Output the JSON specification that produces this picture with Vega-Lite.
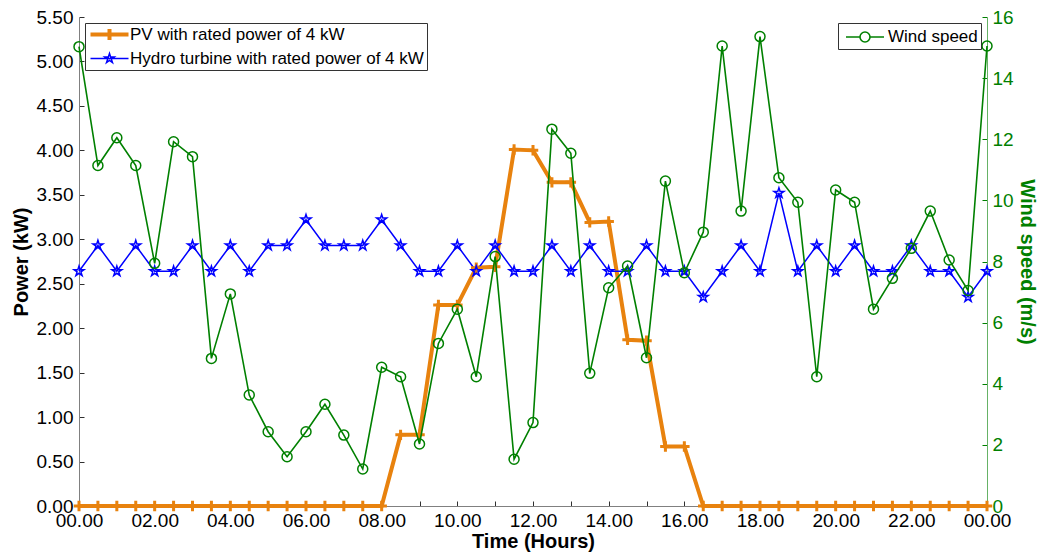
{
  "$schema": "https://vega.github.io/schema/vega-lite/v6.json",
  "width": 908,
  "height": 489,
  "autosize": {"type": "none"},
  "padding": {"left": 79, "top": 17, "right": 54, "bottom": 48},
  "background": "white",
  "config": {
    "font": "Liberation Sans",
    "view": {"stroke": null},
    "axis": {"labelFont": "Liberation Sans", "titleFont": "Liberation Sans", "labelFontSize": 19, "titleFontSize": 20, "titleFontWeight": "bold", "grid": false, "tickSize": -5, "labelOverlap": false, "domainColor": "#808080", "tickColor": "#303030", "labelColor": "black", "titleColor": "black"},
    "legend": {"labelFont": "Liberation Sans", "labelFontSize": 17, "labelColor": "black", "labelLimit": 500}
  },
  "data": {"values": [
    {"t": 0, "pv": 0, "hydro": 2.64, "wind": 15.03},
    {"t": 0.5, "pv": 0, "hydro": 2.93, "wind": 11.14},
    {"t": 1, "pv": 0, "hydro": 2.64, "wind": 12.05},
    {"t": 1.5, "pv": 0, "hydro": 2.93, "wind": 11.14},
    {"t": 2, "pv": 0, "hydro": 2.64, "wind": 7.94},
    {"t": 2.5, "pv": 0, "hydro": 2.64, "wind": 11.92},
    {"t": 3, "pv": 0, "hydro": 2.93, "wind": 11.43},
    {"t": 3.5, "pv": 0, "hydro": 2.64, "wind": 4.83},
    {"t": 4, "pv": 0, "hydro": 2.93, "wind": 6.94},
    {"t": 4.5, "pv": 0, "hydro": 2.64, "wind": 3.63},
    {"t": 5, "pv": 0, "hydro": 2.93, "wind": 2.43},
    {"t": 5.5, "pv": 0, "hydro": 2.93, "wind": 1.61},
    {"t": 6, "pv": 0, "hydro": 3.22, "wind": 2.43},
    {"t": 6.5, "pv": 0, "hydro": 2.93, "wind": 3.33},
    {"t": 7, "pv": 0, "hydro": 2.93, "wind": 2.32},
    {"t": 7.5, "pv": 0, "hydro": 2.93, "wind": 1.21},
    {"t": 8, "pv": 0, "hydro": 3.22, "wind": 4.54},
    {"t": 8.5, "pv": 0.8, "hydro": 2.93, "wind": 4.23},
    {"t": 9, "pv": 0.8, "hydro": 2.64, "wind": 2.03},
    {"t": 9.5, "pv": 2.26, "hydro": 2.64, "wind": 5.32},
    {"t": 10, "pv": 2.26, "hydro": 2.93, "wind": 6.44},
    {"t": 10.5, "pv": 2.68, "hydro": 2.64, "wind": 4.23},
    {"t": 11, "pv": 2.69, "hydro": 2.93, "wind": 8.16},
    {"t": 11.5, "pv": 4.01, "hydro": 2.64, "wind": 1.53},
    {"t": 12, "pv": 4.0, "hydro": 2.64, "wind": 2.73},
    {"t": 12.5, "pv": 3.64, "hydro": 2.93, "wind": 12.33},
    {"t": 13, "pv": 3.64, "hydro": 2.64, "wind": 11.54},
    {"t": 13.5, "pv": 3.19, "hydro": 2.93, "wind": 4.34},
    {"t": 14, "pv": 3.2, "hydro": 2.64, "wind": 7.14},
    {"t": 14.5, "pv": 1.87, "hydro": 2.64, "wind": 7.85},
    {"t": 15, "pv": 1.86, "hydro": 2.93, "wind": 4.85},
    {"t": 15.5, "pv": 0.67, "hydro": 2.64, "wind": 10.63},
    {"t": 16, "pv": 0.67, "hydro": 2.64, "wind": 7.63},
    {"t": 16.5, "pv": 0, "hydro": 2.35, "wind": 8.96},
    {"t": 17, "pv": 0, "hydro": 2.64, "wind": 15.05},
    {"t": 17.5, "pv": 0, "hydro": 2.93, "wind": 9.65},
    {"t": 18, "pv": 0, "hydro": 2.64, "wind": 15.36},
    {"t": 18.5, "pv": 0, "hydro": 3.52, "wind": 10.74},
    {"t": 19, "pv": 0, "hydro": 2.64, "wind": 9.94},
    {"t": 19.5, "pv": 0, "hydro": 2.93, "wind": 4.23},
    {"t": 20, "pv": 0, "hydro": 2.64, "wind": 10.34},
    {"t": 20.5, "pv": 0, "hydro": 2.93, "wind": 9.94},
    {"t": 21, "pv": 0, "hydro": 2.64, "wind": 6.44},
    {"t": 21.5, "pv": 0, "hydro": 2.64, "wind": 7.45},
    {"t": 22, "pv": 0, "hydro": 2.93, "wind": 8.43},
    {"t": 22.5, "pv": 0, "hydro": 2.64, "wind": 9.65},
    {"t": 23, "pv": 0, "hydro": 2.64, "wind": 8.05},
    {"t": 23.5, "pv": 0, "hydro": 2.35, "wind": 7.05},
    {"t": 24, "pv": 0, "hydro": 2.64, "wind": 15.05}
  ]},
  "encoding": {
    "x": {"field": "t", "type": "quantitative", "scale": {"domain": [0, 24], "nice": false, "zero": false},
      "axis": {"title": "Time (Hours)", "values": [0, 1, 2, 3, 4, 5, 6, 7, 8, 9, 10, 11, 12, 13, 14, 15, 16, 17, 18, 19, 20, 21, 22, 23, 24], "labelExpr": "datum.value % 2 != 0 ? '' : (datum.value % 24 < 10 ? '0' : '') + (datum.value % 24) + '.00'", "labelPadding": 10, "titlePadding": 1, "labelFlush": false}}
  },
  "layer": [
    {
      "layer": [
        {
          "mark": {"type": "line", "strokeWidth": 4},
          "encoding": {
            "y": {"field": "pv", "type": "quantitative", "scale": {"domain": [0, 5.5], "nice": false},
              "axis": {"title": "Power (kW)", "values": [0, 0.25, 0.5, 0.75, 1, 1.25, 1.5, 1.75, 2, 2.25, 2.5, 2.75, 3, 3.25, 3.5, 3.75, 4, 4.25, 4.5, 4.75, 5, 5.25, 5.5], "labelExpr": "(datum.value * 4) % 2 != 0 ? '' : format(datum.value, '.2f')", "labelPadding": 11, "titlePadding": 5, "labelFlush": false}},
            "color": {"datum": "pv", "type": "nominal", "scale": {"domain": ["pv", "hydro"], "range": ["#E8820E", "#0000FF"]},
              "legend": {"orient": "top-left", "offset": 6, "title": null, "fillColor": "white", "strokeColor": "#333333", "padding": 3, "rowPadding": 1, "symbolSize": 400, "labelOffset": 25, "cornerRadius": 0,
                "labelExpr": "datum.value == 'pv' ? 'PV with rated power of 4 kW' : 'Hydro turbine with rated power of 4 kW'",
                "encode": {"symbols": {"update": {
                  "shape": {"signal": "datum.value == 'pv' ? 'M-0.6,0H3.2M1.3,-0.55V0.55' : 'M-0.6,0H3.2M1.3,-0.5L1.412,-0.154L1.776,-0.155L1.481,0.059L1.594,0.405L1.3,0.19L1.006,0.405L1.119,0.059L0.824,-0.155L1.188,-0.154Z'"},
                  "strokeWidth": {"signal": "datum.value == 'pv' ? 4 : 1.5"},
                  "fill": {"value": "transparent"}}}}}}
          }
        },
        {
          "mark": {"type": "line", "strokeWidth": 1.5},
          "encoding": {
            "y": {"field": "hydro", "type": "quantitative"},
            "color": {"datum": "hydro", "type": "nominal"}
          }
        },
        {
          "mark": {"type": "point", "shape": "M-1,0H1M0,-1V1", "size": 110, "filled": false, "color": "#E8820E", "strokeWidth": 3, "opacity": 1},
          "encoding": {"y": {"field": "pv", "type": "quantitative"}}
        },
        {
          "mark": {"type": "point", "shape": "M0,-1L0.225,-0.309L0.951,-0.309L0.363,0.118L0.588,0.809L0,0.382L-0.588,0.809L-0.363,0.118L-0.951,-0.309L-0.225,-0.309Z", "size": 110, "filled": false, "color": "#0000FF", "strokeWidth": 1.5, "opacity": 1},
          "encoding": {"y": {"field": "hydro", "type": "quantitative"}}
        }
      ]
    },
    {
      "layer": [
        {
          "mark": {"type": "line", "strokeWidth": 1.6},
          "encoding": {
            "y": {"field": "wind", "type": "quantitative", "scale": {"domain": [0, 16], "nice": false},
              "axis": {"orient": "right", "title": "Wind speed (m/s)", "values": [0, 1, 2, 3, 4, 5, 6, 7, 8, 9, 10, 11, 12, 13, 14, 15, 16], "labelExpr": "datum.value % 2 != 0 ? '' : datum.label", "labelColor": "#008000", "titleColor": "#008000", "domainColor": "#66B266", "tickColor": "#008000", "labelPadding": 10, "titlePadding": 3, "labelFlush": false}},
            "stroke": {"datum": "Wind speed", "type": "nominal", "scale": {"range": ["#008000"]},
              "legend": {"orient": "top-right", "offset": 6, "title": null, "fillColor": "white", "strokeColor": "#333333", "padding": 3, "symbolSize": 400, "labelOffset": 25, "cornerRadius": 0,
                "encode": {"symbols": {"update": {
                  "shape": {"value": "M-0.6,0H0.8M1.8,0H3.2M1.8,0A0.5,0.5 0 1,1 0.8,0A0.5,0.5 0 1,1 1.8,0Z"},
                  "strokeWidth": {"value": 1.6},
                  "fill": {"value": "transparent"}}}}}}
          }
        },
        {
          "mark": {"type": "point", "shape": "circle", "size": 100, "filled": false, "color": "#008000", "strokeWidth": 1.5, "opacity": 1},
          "encoding": {"y": {"field": "wind", "type": "quantitative"}}
        }
      ]
    }
  ],
  "resolve": {"scale": {"y": "independent"}}
}
